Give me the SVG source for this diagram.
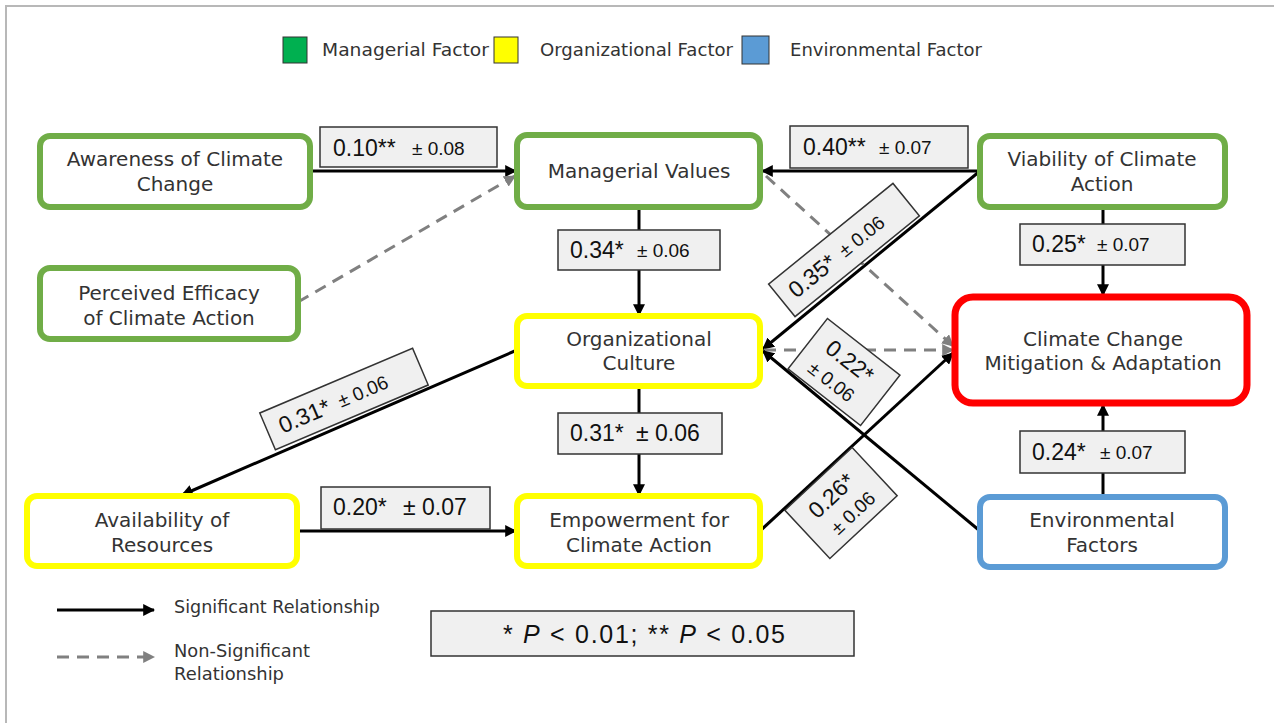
<svg xmlns="http://www.w3.org/2000/svg" width="1274" height="723" viewBox="0 0 1274 723">
<style>
.node{fill:#fff;stroke-width:6}
.g{stroke:#70ad47}
.y{stroke:#ffff00}
.b{stroke:#5b9bd5}
.r{stroke:#ff0000;stroke-width:7}
.nt{font-family:"DejaVu Sans",sans-serif;font-size:20px;fill:#333;text-anchor:middle;dominant-baseline:central}
.lb{fill:#f0f0f0;stroke:#333;stroke-width:1.5}
.lt{font-family:"Liberation Sans",Arial,sans-serif;fill:#111;dominant-baseline:central}
.big{font-size:23px}
.sm{font-size:19px}
.sol{stroke:#000;stroke-width:3;fill:none}
.dsh{stroke:#808080;stroke-width:3;fill:none;stroke-dasharray:12 8}
.leg{font-family:"DejaVu Sans",sans-serif;font-size:17px;fill:#333;dominant-baseline:central}
</style>
<defs>
<marker id="ab" viewBox="0 0 10 10" refX="9" refY="5" markerWidth="12" markerHeight="12" markerUnits="userSpaceOnUse" orient="auto"><path d="M0,0 L10,5 L0,10 z" fill="#000"/></marker>
<marker id="ag" viewBox="0 0 10 10" refX="9" refY="5" markerWidth="12" markerHeight="12" markerUnits="userSpaceOnUse" orient="auto"><path d="M0,0 L10,5 L0,10 z" fill="#808080"/></marker>
</defs>
<rect x="0" y="0" width="1274" height="723" fill="#fff"/>
<path d="M6,723 L6,6 L1274,6" fill="none" stroke="#b8b8b8" stroke-width="2"/>

<g id="legend-top">
<rect x="283" y="37" width="24" height="26" fill="#00b050" stroke="#333" stroke-width="1"/>
<text class="leg" x="322" y="50" textLength="167" lengthAdjust="spacingAndGlyphs">Managerial Factor</text>
<rect x="494" y="37" width="24" height="26" fill="#ffff00" stroke="#333" stroke-width="1"/>
<text class="leg" x="540" y="50" textLength="193" lengthAdjust="spacingAndGlyphs">Organizational Factor</text>
<rect x="742" y="36" width="27" height="28" fill="#5b9bd5" stroke="#333" stroke-width="1"/>
<text class="leg" x="790" y="50" textLength="192" lengthAdjust="spacingAndGlyphs">Environmental Factor</text>
</g>

<g id="connectors">
<line class="sol" x1="310" y1="171" x2="516" y2="171" marker-end="url(#ab)"/>
<line class="dsh" x1="298" y1="302" x2="515" y2="176" marker-end="url(#ag)"/>
<line class="sol" x1="980" y1="171" x2="762" y2="171" marker-end="url(#ab)"/>
<line class="sol" x1="980" y1="171" x2="763" y2="349" marker-end="url(#ab)"/>
<line class="dsh" x1="766" y1="176" x2="953" y2="346" marker-end="url(#ag)"/>
<line class="dsh" x1="764" y1="350" x2="953" y2="350" marker-end="url(#ag)"/>
<line class="sol" x1="639" y1="207" x2="639" y2="315" marker-end="url(#ab)"/>
<line class="sol" x1="517" y1="350" x2="182" y2="495" marker-end="url(#ab)"/>
<line class="sol" x1="639" y1="386" x2="639" y2="495" marker-end="url(#ab)"/>
<line class="sol" x1="297" y1="531" x2="516" y2="531" marker-end="url(#ab)"/>
<line class="sol" x1="760" y1="531" x2="953" y2="353" marker-end="url(#ab)"/>
<line class="sol" x1="980" y1="531" x2="763" y2="351" marker-end="url(#ab)"/>
<line class="sol" x1="1103" y1="207" x2="1103" y2="295" marker-end="url(#ab)"/>
<line class="sol" x1="1103" y1="496" x2="1103" y2="405" marker-end="url(#ab)"/>
</g>

<g id="labels">
<g><rect class="lb" x="320" y="127" width="177" height="40"/><text class="lt" y="148"><tspan class="big" x="333">0.10**</tspan><tspan class="sm" x="412">± 0.08</tspan></text></g>
<g><rect class="lb" x="790" y="126" width="178" height="42"/><text class="lt" y="147"><tspan class="big" x="803">0.40**</tspan><tspan class="sm" x="879">± 0.07</tspan></text></g>
<g><rect class="lb" x="558" y="230" width="162" height="40"/><text class="lt" y="250"><tspan class="big" x="570">0.34*</tspan><tspan class="sm" x="637">± 0.06</tspan></text></g>
<g><rect class="lb" x="1020" y="224" width="165" height="41"/><text class="lt" y="244"><tspan class="big" x="1032">0.25*</tspan><tspan class="sm" x="1097">± 0.07</tspan></text></g>
<g><rect class="lb" x="558" y="413" width="164" height="41"/><text class="lt" y="433"><tspan class="big" x="570">0.31*</tspan><tspan class="big" x="636">± 0.06</tspan></text></g>
<g><rect class="lb" x="321" y="487" width="169" height="42"/><text class="lt" y="507"><tspan class="big" x="333">0.20*</tspan><tspan class="big" x="403">± 0.07</tspan></text></g>
<g><rect class="lb" x="1020" y="431" width="165" height="42"/><text class="lt" y="452"><tspan class="big" x="1032">0.24*</tspan><tspan class="sm" x="1100">± 0.07</tspan></text></g>
<g transform="translate(844,250) rotate(-39)"><rect class="lb" x="-80" y="-21" width="160" height="42"/><text class="lt" y="0"><tspan class="big" x="-68">0.35*</tspan><tspan class="sm" x="-4">± 0.06</tspan></text></g>
<g transform="translate(344,399) rotate(-23)"><rect class="lb" x="-83" y="-20" width="166" height="40"/><text class="lt" y="0"><tspan class="big" x="-70">0.31*</tspan><tspan class="sm" x="-6">± 0.06</tspan></text></g>
<g transform="translate(844,372) rotate(38)"><rect class="lb" x="-46" y="-32" width="92" height="64"/><text class="lt" text-anchor="middle"><tspan class="big" x="-2" y="-12">0.22*</tspan><tspan class="sm" x="-4" y="15">± 0.06</tspan></text></g>
<g transform="translate(841,503) rotate(-43)"><rect class="lb" x="-46" y="-33" width="92" height="66"/><text class="lt" text-anchor="middle"><tspan class="big" x="-2" y="-12">0.26*</tspan><tspan class="sm" x="2" y="15">± 0.06</tspan></text></g>
</g>

<g id="n-awareness"><rect class="node g" x="40" y="136" width="270" height="71" rx="10"/><text class="nt" x="175" y="159">Awareness of Climate</text><text class="nt" x="175" y="184">Change</text></g>
<g id="n-managerial"><rect class="node g" x="517" y="135" width="243" height="72" rx="10"/><text class="nt" x="639" y="171">Managerial Values</text></g>
<g id="n-viability"><rect class="node g" x="980" y="136" width="245" height="71" rx="10"/><text class="nt" x="1102" y="159">Viability of Climate</text><text class="nt" x="1102" y="184">Action</text></g>
<g id="n-perceived"><rect class="node g" x="40" y="268" width="258" height="71" rx="10"/><text class="nt" x="169" y="293">Perceived Efficacy</text><text class="nt" x="169" y="318">of Climate Action</text></g>
<g id="n-culture"><rect class="node y" x="517" y="316" width="243" height="70" rx="10"/><text class="nt" x="639" y="339">Organizational</text><text class="nt" x="639" y="363">Culture</text></g>
<g id="n-climate"><rect class="node r" x="955" y="297" width="292" height="106" rx="18"/><text class="nt" x="1103" y="339">Climate Change</text><text class="nt" x="1103" y="363">Mitigation &amp; Adaptation</text></g>
<g id="n-availability"><rect class="node y" x="27" y="496" width="270" height="70" rx="10"/><text class="nt" x="162" y="520">Availability of</text><text class="nt" x="162" y="545">Resources</text></g>
<g id="n-empowerment"><rect class="node y" x="517" y="496" width="243" height="70" rx="10"/><text class="nt" x="639" y="520">Empowerment for</text><text class="nt" x="639" y="545">Climate Action</text></g>
<g id="n-environmental"><rect class="node b" x="980" y="497" width="245" height="70" rx="10"/><text class="nt" x="1102" y="520">Environmental</text><text class="nt" x="1102" y="545">Factors</text></g>

<g id="legend-bottom">
<line class="sol" x1="57" y1="610" x2="154" y2="610" marker-end="url(#ab)"/>
<text class="leg" x="174" y="607" textLength="206" lengthAdjust="spacingAndGlyphs">Significant Relationship</text>
<line class="dsh" x1="57" y1="657" x2="154" y2="657" marker-end="url(#ag)"/>
<text class="leg" x="174" y="651" textLength="136" lengthAdjust="spacingAndGlyphs">Non-Significant</text>
<text class="leg" x="174" y="674" textLength="110" lengthAdjust="spacingAndGlyphs">Relationship</text>
<rect class="lb" x="431" y="611" width="423" height="45"/>
<text class="lt" x="503" y="634" font-size="25" textLength="282" lengthAdjust="spacing">* <tspan font-style="italic">P</tspan> &lt; 0.01; ** <tspan font-style="italic">P</tspan> &lt; 0.05</text>
</g>
</svg>
